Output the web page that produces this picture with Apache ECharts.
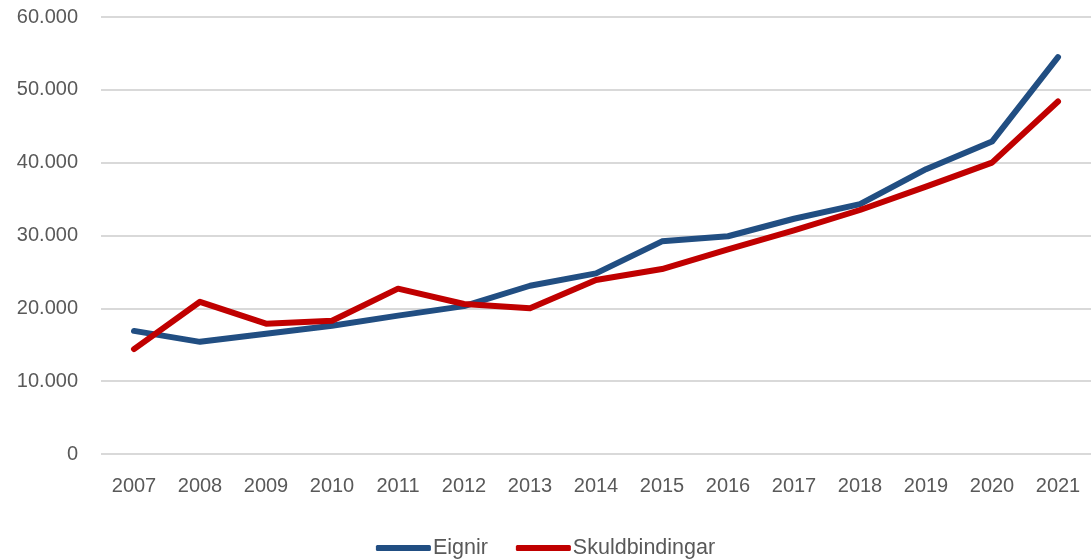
<!DOCTYPE html>
<html lang="is">
<head>
  <meta charset="UTF-8">
  <title>Eignir og skuldbindingar</title>
  <script src="https://cdn.jsdelivr.net/npm/echarts@6/dist/echarts.min.js"></script>
  <style>
    html, body { margin: 0; padding: 0; background: #fff; }
    #main { width: 1091px; height: 560px; }
  </style>
</head>
<body>
  <div id="main"></div>
  <script>
    var years = ['2007', '2008', '2009', '2010', '2011', '2012', '2013', '2014',
      '2015', '2016', '2017', '2018', '2019', '2020', '2021'];
    var eignir = [16900, 15400, 16500, 17600, 19000, 20300, 23100, 24800,
      29200, 29900, 32300, 34300, 39100, 42900, 54500];
    var skuldbindingar = [14400, 20900, 17900, 18300, 22700, 20600, 20000, 23900,
      25400, 28100, 30700, 33500, 36700, 40000, 48400];

    var font = 'Liberation Sans';
    var chart = echarts.init(document.getElementById('main'));

    chart.setOption({
      animation: false,
      grid: { left: 101, right: 0, top: 17, bottom: 106 },
      legend: {
        top: 532,
        left: 'center',
        itemWidth: 55,
        itemHeight: 6,
        itemGap: 28,
        textStyle: { fontFamily: font, fontSize: 21.5, color: '#595959', padding: [0, 0, 0, -3] },
        data: [
          { name: 'Eignir', icon: 'roundRect' },
          { name: 'Skuldbindingar', icon: 'roundRect' }
        ]
      },
      xAxis: {
        type: 'category',
        data: years,
        boundaryGap: true,
        axisLine: { show: false },
        axisTick: { show: false },
        axisLabel: { fontFamily: font, fontSize: 20, color: '#595959', margin: 22 }
      },
      yAxis: {
        type: 'value',
        min: 0,
        max: 60000,
        interval: 10000,
        axisLine: { show: false },
        axisTick: { show: false },
        splitLine: { lineStyle: { color: '#d9d9d9', width: 2 } },
        axisLabel: {
          fontFamily: font, fontSize: 20, color: '#595959', margin: 23,
          formatter: function (v) {
            return v === 0 ? '0' : String(v).replace(/\B(?=(\d{3})+(?!\d))/g, '.');
          }
        }
      },
      series: [
        {
          name: 'Eignir',
          type: 'line',
          data: eignir,
          symbol: 'none',
          color: '#214e82',
          lineStyle: { width: 6, color: '#214e82', cap: 'round', join: 'round' }
        },
        {
          name: 'Skuldbindingar',
          type: 'line',
          data: skuldbindingar,
          symbol: 'none',
          color: '#c00000',
          lineStyle: { width: 6, color: '#c00000', cap: 'round', join: 'round' }
        }
      ]
    });
  </script>
</body>
</html>
